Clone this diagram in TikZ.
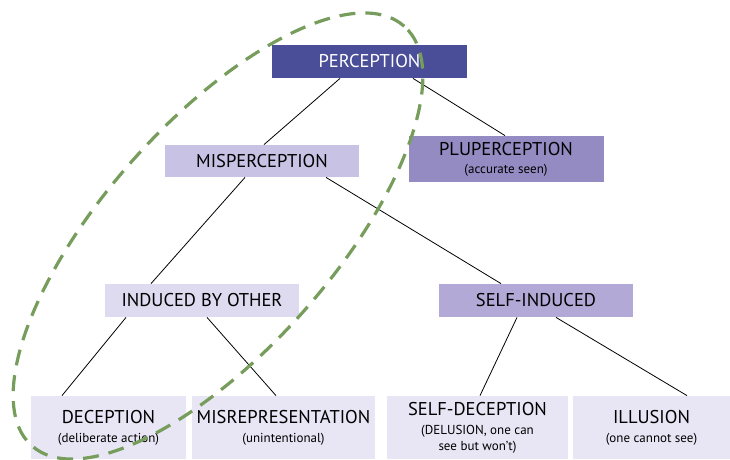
\documentclass[tikz,border=0pt]{standalone}
\usepackage{fontspec}
\setmainfont{PT Sans}
\definecolor{percol}{RGB}{74,78,153}
\definecolor{miscol}{RGB}{200,195,228}
\definecolor{plucol}{RGB}{149,139,195}
\definecolor{indcol}{RGB}{222,219,240}
\definecolor{selfcol}{RGB}{178,169,214}
\definecolor{leafcol}{RGB}{232,230,244}
\definecolor{ringcol}{RGB}{118,157,92}
\newcommand{\smalltxt}{\fontsize{13}{13}\selectfont}
\begin{document}
\begin{tikzpicture}[x=1pt,y=-1pt,font=\fontsize{18.5}{16}\selectfont,line width=0.8pt,
		box/.style={inner sep=0pt,align=center,minimum height=33pt},
		leaf/.style={box,fill=leafcol,minimum height=63pt}]
			\useasboundingbox (0,0) rectangle (730,459);
			\node[box,fill=percol,text=white,minimum width=195pt] (perception) at (369.5,61.5) {PERCEPTION};
			\node[box,fill=miscol,minimum width=194pt,minimum height=32pt] (misperception) at (262,161) {MISPERCEPTION};
			\node[box,fill=plucol,minimum width=195pt,minimum height=46pt] (pluperception) at (506,159) {PLUPERCEPTION\\[2pt]\smalltxt (accurate seen)};
			\node[box,fill=indcol,minimum width=194pt] (induced) at (202,300.5) {INDUCED BY OTHER};
			\node[box,fill=selfcol,minimum width=194pt] (selfinduced) at (536,300.5) {SELF-INDUCED};
			\node[leaf,minimum width=155pt] (deception) at (108.5,427.5) {DECEPTION\\[3pt]\smalltxt (deliberate action)};
			\node[leaf,minimum width=183pt] (misrep) at (283.5,427.5) {MISREPRESENTATION\\[3pt]\smalltxt (unintentional)};
			\node[leaf,minimum width=181pt] (selfdeception) at (477.5,427.5) {SELF-DECEPTION\\[3pt]\smalltxt (DELUSION, one can\\\smalltxt see but won't)};
			\node[leaf,minimum width=157pt] (illusion) at (651.5,427.5) {ILLUSION\\[3pt]\smalltxt (one cannot see)};
			\draw ([xshift=-29.5pt]perception.south)--([xshift=2pt]misperception.north);
			\draw ([xshift=43.5pt]perception.south)--([xshift=-1pt]pluperception.north);
			\draw ([xshift=-17pt]misperception.south)--([xshift=-51pt]induced.north);
			\draw ([xshift=64pt]misperception.south)--([xshift=-35pt]selfinduced.north);
			\draw ([xshift=-76pt]induced.south)--([xshift=-46.5pt]deception.north);
			\draw ([xshift=5pt]induced.south)--([xshift=-7.5pt]misrep.north);
			\draw ([xshift=-19pt]selfinduced.south)--([xshift=2.5pt]selfdeception.north);
			\draw ([xshift=20pt]selfinduced.south)--([xshift=35.5pt]illusion.north);
			\draw[ringcol,line width=3.2pt,dash pattern=on 16pt off 10pt,rotate around={48.4:(218,236)}] (218,236) ellipse[x radius=280.5pt,y radius=114pt];
		\end{tikzpicture}
\end{document}
